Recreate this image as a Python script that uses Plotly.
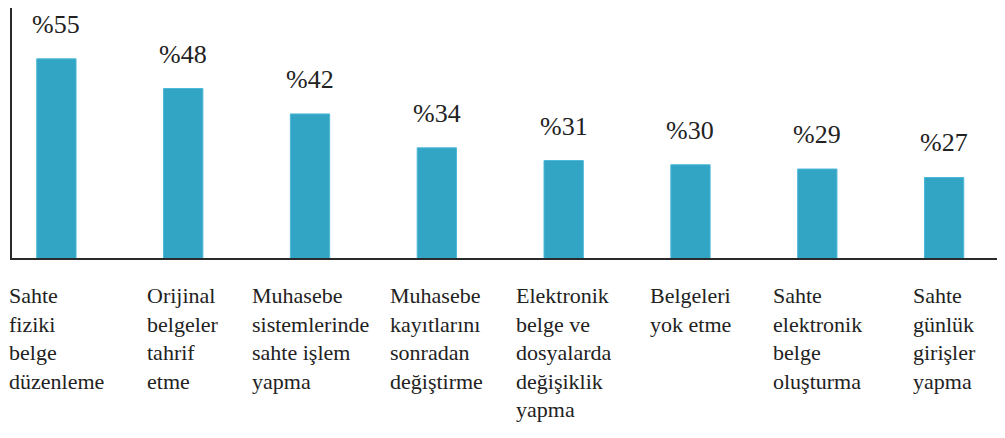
import plotly.graph_objects as go

categories = [
    "Sahte<br>fiziki<br>belge<br>düzenleme",
    "Orijinal<br>belgeler<br>tahrif<br>etme",
    "Muhasebe<br>sistemlerinde<br>sahte işlem<br>yapma",
    "Muhasebe<br>kayıtlarını<br>sonradan<br>değiştirme",
    "Elektronik<br>belge ve<br>dosyalarda<br>değişiklik<br>yapma",
    "Belgeleri<br>yok etme",
    "Sahte<br>elektronik<br>belge<br>oluşturma",
    "Sahte<br>günlük<br>girişler<br>yapma",
]
values = [55, 48, 42, 34, 31, 30, 29, 27]
value_labels = ["%55", "%48", "%42", "%34", "%31", "%30", "%29", "%27"]

SERIF = "Liberation Serif"
n_cat = len(categories)
x_range = [-0.35, 7.48]
y_range = [8, 67]


def to_paper_x(i):
    return (i - x_range[0]) / (x_range[1] - x_range[0])


def to_paper_y(v):
    return (v - y_range[0]) / (y_range[1] - y_range[0])


fig = go.Figure()
fig.add_trace(go.Bar(
    x=list(range(n_cat)),
    y=values,
    marker=dict(color="#32A4C4", line=dict(color="#4DB8D8", width=1)),
    hoverinfo="skip",
))

annotations = []
for i, (v, t) in enumerate(zip(values, value_labels)):
    annotations.append(dict(
        x=to_paper_x(i), y=to_paper_y(v), xref="paper", yref="paper",
        text=t, showarrow=False,
        yanchor="bottom", xanchor="center", yshift=18,
        font=dict(family=SERIF, size=26, color="#222222"),
    ))
for i, c in enumerate(categories):
    annotations.append(dict(
        x=to_paper_x(i), y=-0.09, xref="paper", yref="paper",
        text=c, showarrow=False,
        yanchor="top", xanchor="center", align="left",
        font=dict(family=SERIF, size=22, color="#222222"),
    ))

fig.update_layout(
    width=997, height=430,
    margin=dict(l=4, r=0, t=0, b=180),
    paper_bgcolor="white", plot_bgcolor="white",
    showlegend=False,
    bargap=0.69,
    annotations=annotations,
    font=dict(family=SERIF, color="#222222"),
    xaxis=dict(range=x_range, showticklabels=False, ticks="",
               showgrid=False, zeroline=False, showline=True,
               linecolor="#2a2a2a", linewidth=2),
    yaxis=dict(range=y_range, showticklabels=False, ticks="",
               showgrid=False, zeroline=False, showline=True,
               linecolor="#2a2a2a", linewidth=2),
)

fig.write_html("out.html")
